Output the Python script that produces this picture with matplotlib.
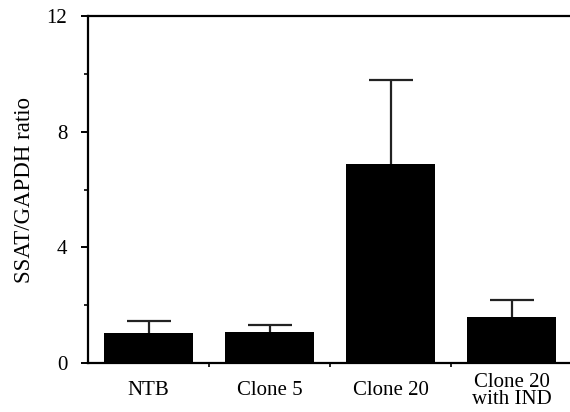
import numpy as np
import matplotlib.pyplot as plt
from matplotlib.ticker import MultipleLocator

plt.rcParams['font.family'] = ['Liberation Serif', 'DejaVu Serif']

labels = ['NTB', 'Clone 5', 'Clone 20', 'Clone 20\nwith IND']
ratio = [1.04, 1.07, 6.89, 1.59]
err_up = [0.41, 0.24, 2.90, 0.59]

fig = plt.figure(figsize=(5.70, 4.12), dpi=100)
ax = fig.add_axes([88 / 570, 1 - 363 / 412, 484 / 570, 347 / 412])

x = np.arange(len(labels))
ax.bar(x, ratio, width=0.74, color='black', zorder=2)
eb = ax.errorbar(x, ratio, yerr=[np.zeros(len(x)), err_up], fmt='none',
                 ecolor='#222222', elinewidth=1.6, capsize=16, capthick=1.6, zorder=1)
# only the upper cap
eb[1][0].set_visible(False)

ax.set_xlim(-0.5, 3.5)
ax.set_ylim(0, 12)
ax.set_yticks([0, 4, 8, 12])
ax.yaxis.set_minor_locator(MultipleLocator(2))
ax.set_xticks(x)
ax.set_xticklabels(labels, fontsize=15, linespacing=0.85)
for t in ax.get_xticklabels():
    t.set_verticalalignment('center')
ax.set_xticks([0.5, 1.5, 2.5], minor=True)
ax.tick_params(axis='x', which='major', length=0, pad=20)
ax.tick_params(axis='x', which='minor', length=3, width=1.2)
ax.tick_params(axis='y', which='major', length=5, width=1.4, labelsize=15, pad=10)
ax.tick_params(axis='y', which='minor', length=3, width=1.2)
ax.set_ylabel('SSAT/GAPDH ratio', fontsize=16.5, labelpad=8)

for s in ax.spines.values():
    s.set_linewidth(1.6)
ax.spines['right'].set_visible(False)

fig.savefig('out.png', dpi=100)
